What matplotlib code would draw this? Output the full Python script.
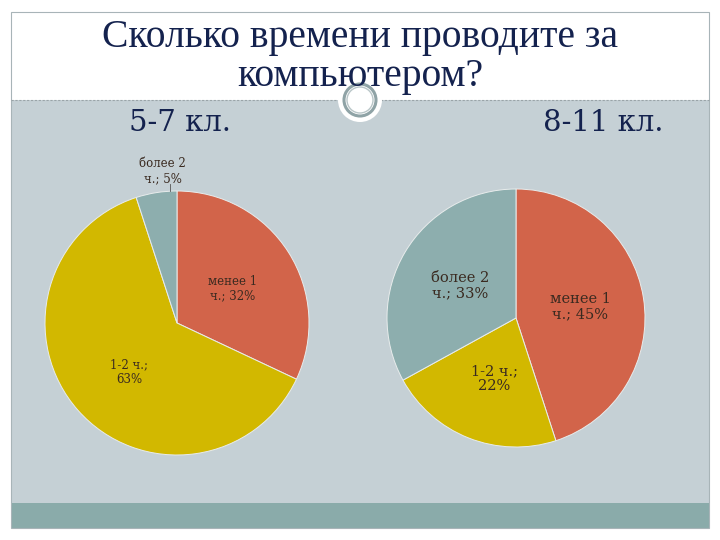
import matplotlib
matplotlib.use("Agg")
import matplotlib.pyplot as plt
from matplotlib.patches import Rectangle, Circle

title = "Сколько времени проводите за\nкомпьютером?"
groups = ["5-7 кл.", "8-11 кл."]
categories = ["менее 1 ч.", "1-2 ч.", "более 2 ч."]
label_text = ["менее 1\nч.", "1-2 ч.;\n", "более 2\nч."]
values_57 = [32, 63, 5]
values_811 = [45, 22, 33]
colors = ["#D2644A", "#D2B800", "#8DAEAE"]

W, H = 720, 540
fig = plt.figure(figsize=(7.2, 5.4), dpi=100)
fig.patch.set_facecolor("white")

bg = fig.add_axes([0, 0, 1, 1])
bg.set_xlim(0, W)
bg.set_ylim(H, 0)
bg.axis("off")
# slide areas
bg.add_patch(Rectangle((11, 12), 698, 88, facecolor="white", edgecolor="none", zorder=0))
bg.add_patch(Rectangle((11, 100), 698, 403, facecolor="#C5D0D5", edgecolor="none", zorder=0))
bg.add_patch(Rectangle((11, 503), 698, 25, facecolor="#8AABAA", edgecolor="none", zorder=0))
bg.add_patch(Rectangle((11, 12), 698, 516, facecolor="none", edgecolor="#A8B4B8", lw=0.8, zorder=0.2))
bg.plot([11, 709], [100, 100], ls=(0, (2, 1.5)), color="#9AA4A8", lw=0.8, zorder=0.5)
bg.add_patch(Circle((360, 100), 22, facecolor="white", edgecolor="none", zorder=1))
bg.add_patch(Circle((360, 100), 16, facecolor="none", edgecolor="#8FA3A6", lw=2.2, zorder=1.1))
bg.add_patch(Circle((360, 100), 13, facecolor="none", edgecolor="#B9C6C8", lw=1.0, zorder=1.1))

bg.text(360, 57, title, ha="center", va="center", fontsize=28.5,
        family="Liberation Serif", color="#14224E", linespacing=1.08)
bg.text(180, 123, groups[0], ha="center", va="center", fontsize=21,
        family="DejaVu Serif", color="#14224E")
bg.text(603, 123, groups[1], ha="center", va="center", fontsize=21,
        family="DejaVu Serif", color="#14224E")


def draw_pie(cx, cy, r, values, label_pos, fs):
    ax = fig.add_axes([(cx - r) / W, 1 - (cy + r) / H, 2 * r / W, 2 * r / H])
    ax.pie(values, colors=colors, startangle=90, counterclock=False,
           wedgeprops=dict(edgecolor="#E8ECEC", linewidth=0.7))
    ax.set_xlim(-1, 1)
    ax.set_ylim(-1, 1)
    ax.set_aspect("equal")
    ax.axis("off")
    texts = []
    for i, (v, (x, y)) in enumerate(zip(values, label_pos)):
        if label_text[i].endswith("\n"):
            s = f"{label_text[i]}{v}%"
        else:
            s = f"{label_text[i]}; {v}%"
        t = ax.text(x, y, s, ha="center", va="center", fontsize=fs,
                    family="DejaVu Serif", color="#3A2A20", linespacing=1.15,
                    clip_on=False)
        texts.append(t)
    return ax, texts


axL, tL = draw_pie(177, 323, 132, values_57,
                   [(0.42, 0.26), (-0.36, -0.37), (-0.11, 1.15)], 8.5)
axL.plot([-0.05, -0.05], [1.0, 1.05], color="#555555", lw=0.6, clip_on=False)
axR, tR = draw_pie(516, 318, 129, values_811,
                   [(0.50, 0.09), (-0.17, -0.47), (-0.43, 0.25)], 10.5)

fig.savefig("out.png", dpi=100, facecolor="white")
